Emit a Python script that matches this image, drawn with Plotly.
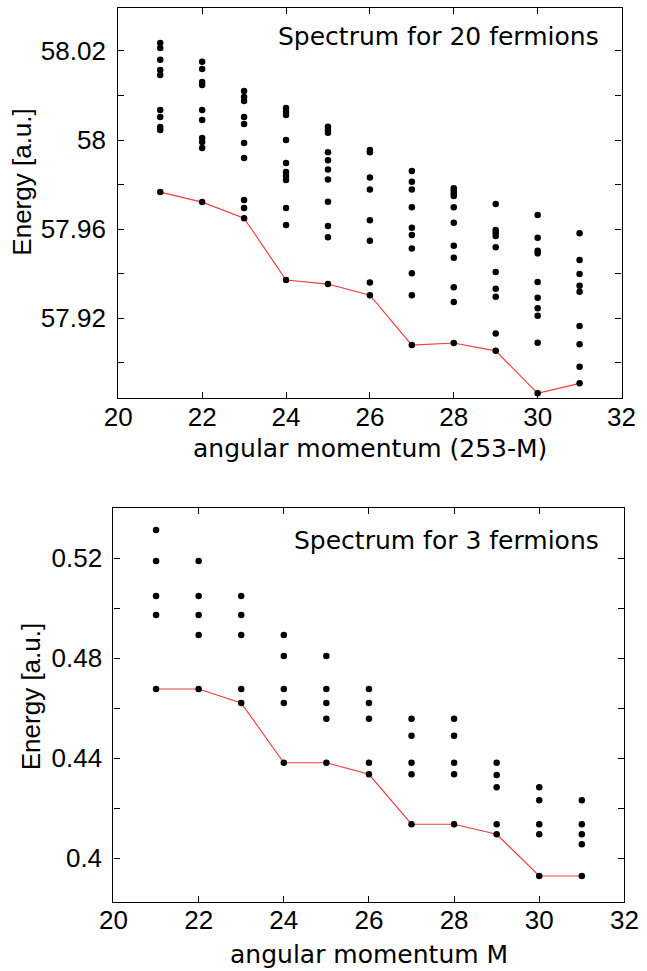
import plotly.graph_objects as go

# Angular momentum values on the horizontal axis
M = list(range(21, 32))

# Energy levels [a.u.] of the 20-fermion system, one list per angular momentum (253-M)
levels_20 = [
    [58.0436, 58.0413, 58.0360, 58.0315, 58.0292, 58.0135, 58.0103, 58.0058, 58.0045, 57.9766],
    [58.0351, 58.0319, 58.0261, 58.0247, 58.0135, 58.0090, 58.0009, 57.9991, 57.9964, 57.9721],
    [58.0220, 58.0193, 58.0175, 58.0103, 58.0072, 57.9987, 57.9919, 57.9730, 57.9694, 57.9649],
    [58.0144, 58.0126, 58.0112, 58.0000, 57.9897, 57.9856, 57.9838, 57.9820, 57.9694, 57.9618, 57.9371],
    [58.0060, 58.0045, 58.0033, 57.9945, 57.9909, 57.9868, 57.9823, 57.9723, 57.9614, 57.9563, 57.9353],
    [57.9955, 57.9945, 57.9832, 57.9778, 57.9640, 57.9547, 57.9360, 57.9303],
    [57.9861, 57.9813, 57.9778, 57.9698, 57.9606, 57.9573, 57.9513, 57.9401, 57.9303, 57.9079],
    [57.9783, 57.9772, 57.9760, 57.9748, 57.9698, 57.9628, 57.9525, 57.9471, 57.9338, 57.9272, 57.9088],
    [57.9712, 57.9596, 57.9583, 57.9569, 57.9518, 57.9407, 57.9332, 57.9296, 57.9131, 57.9053],
    [57.9663, 57.9561, 57.9503, 57.9491, 57.9362, 57.9291, 57.9244, 57.9211, 57.9089, 57.8862],
    [57.9581, 57.9461, 57.9398, 57.9345, 57.9318, 57.9165, 57.9082, 57.8981, 57.8907],
]

# Energy levels [a.u.] of the 3-fermion system, one list per angular momentum M
levels_3 = [
    [0.5312, 0.5188, 0.5048, 0.4972, 0.4676],
    [0.5188, 0.5048, 0.4972, 0.4892, 0.4676],
    [0.5048, 0.4972, 0.4892, 0.4676, 0.4620],
    [0.4892, 0.4808, 0.4676, 0.4620, 0.4381],
    [0.4808, 0.4676, 0.4620, 0.4557, 0.4381],
    [0.4676, 0.4620, 0.4557, 0.4381, 0.4335],
    [0.4557, 0.4489, 0.4381, 0.4335, 0.4135],
    [0.4557, 0.4489, 0.4381, 0.4335, 0.4135],
    [0.4381, 0.4332, 0.4283, 0.4135, 0.4095],
    [0.4283, 0.4231, 0.4135, 0.4095, 0.3928],
    [0.4231, 0.4135, 0.4095, 0.4055, 0.3928],
]

# Axis tick labels
x_ticks = [20, 22, 24, 26, 28, 30, 32]
y20_tickvals = [57.92, 57.96, 58.00, 58.04]
y20_ticktext = ["57.92", "57.96", "58", "58.02"]
y20_minor = [57.90, 57.94, 57.98, 58.02]
y3_tickvals = [0.40, 0.44, 0.48, 0.52]
y3_ticktext = ["0.4", "0.44", "0.48", "0.52"]
y3_minor = [0.42, 0.46, 0.50]

TICK_FONT = dict(family="Liberation Sans, Arial, sans-serif", size=26, color="black")
YTITLE_FONT = dict(family="Liberation Sans, Arial, sans-serif", size=26, color="black")
TEXT_FONT = dict(family="DejaVu Sans, Verdana, sans-serif", size=25, color="black")
LINE_RED = "#f23b3b"


def add_spectrum(fig, levels, xa, ya):
    xs, ys = [], []
    for m, col in zip(M, levels):
        xs.extend([m] * len(col))
        ys.extend(col)
    ground = [min(col) for col in levels]
    fig.add_trace(go.Scatter(x=M, y=ground, mode="lines",
                             line=dict(color=LINE_RED, width=1.2),
                             xaxis=xa, yaxis=ya, showlegend=False, hoverinfo="skip"))
    fig.add_trace(go.Scatter(x=xs, y=ys, mode="markers",
                             marker=dict(color="black", size=6.5),
                             xaxis=xa, yaxis=ya, showlegend=False))


fig = go.Figure()
add_spectrum(fig, levels_20, "x", "y")
add_spectrum(fig, levels_3, "x2", "y2")

axis_common = dict(showline=True, linecolor="black", linewidth=1.4, mirror="ticks",
                   ticks="inside", ticklen=6, tickwidth=1, tickcolor="black",
                   showgrid=False, zeroline=False, tickfont=TICK_FONT,
                   ticklabeloverflow="allow")

W, H = 647, 971

fig.update_layout(
    width=W, height=H,
    margin=dict(l=0, r=0, t=0, b=0),
    paper_bgcolor="white", plot_bgcolor="white",
    xaxis=dict(domain=[109 / W, 635 / W], range=[20, 32], anchor="y",
               tickvals=x_ticks, ticklabelstandoff=-4, **axis_common),
    yaxis=dict(domain=[1 - 398 / H, 1 - 8 / H], range=[57.8841, 58.0593], anchor="x",
               tickvals=y20_tickvals, ticktext=y20_ticktext, ticklabelstandoff=6,
               minor=dict(tickvals=y20_minor, ticks="inside", ticklen=6, tickcolor="black"),
               **axis_common),
    xaxis2=dict(domain=[104 / W, 638 / W], range=[20, 32], anchor="y2",
                tickvals=x_ticks, ticklabelstandoff=-5, **axis_common),
    yaxis2=dict(domain=[1 - 902 / H, 1 - 508 / H], range=[0.3824, 0.54], anchor="x2",
                tickvals=y3_tickvals, ticktext=y3_ticktext, ticklabelstandoff=5,
                minor=dict(tickvals=y3_minor, ticks="inside", ticklen=6, tickcolor="black"),
                **axis_common),
)

annotations = [
    dict(text="Spectrum for 20 fermions", x=614 / W, y=1 - 37 / H, xanchor="right", yanchor="middle",
         font=TEXT_FONT),
    dict(text="Spectrum for 3 fermions", x=614 / W, y=1 - 540 / H, xanchor="right", yanchor="middle",
         font=TEXT_FONT),
    dict(text="angular momentum (253-M)", x=(109 + 635) / 2 / W, y=1 - 449 / H,
         xanchor="center", yanchor="middle", font=TEXT_FONT),
    dict(text="angular momentum M", x=(104 + 638) / 2 / W, y=1 - 954 / H,
         xanchor="center", yanchor="middle", font=TEXT_FONT),
    dict(text="Energy [a.u.]", x=8 / W, y=1 - 182 / H, textangle=-90,
         xanchor="center", yanchor="middle", font=YTITLE_FONT),
    dict(text="Energy [a.u.]", x=18 / W, y=1 - 697 / H, textangle=-90,
         xanchor="center", yanchor="middle", font=YTITLE_FONT),
]
for a in annotations:
    fig.add_annotation(xref="paper", yref="paper", showarrow=False, **a)

fig.write_html("out.html")
